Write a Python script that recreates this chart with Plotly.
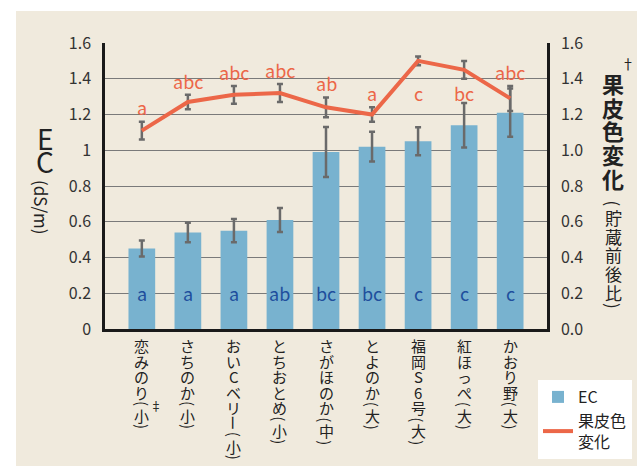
import plotly.graph_objects as go

# ---------------- data ----------------
categories = ["恋みのり(小)", "さちのか(小)", "おいCベリー(小)", "とちおとめ(小)",
              "さがほのか(中)", "とよのか(大)", "福岡S6号(大)", "紅ほっぺ(大)", "かおり野(大)"]
ec = [0.45, 0.54, 0.55, 0.61, 0.99, 1.02, 1.05, 1.14, 1.21]
ec_err = [0.045, 0.055, 0.065, 0.067, 0.14, 0.083, 0.078, 0.125, 0.135]
cc = [1.11, 1.27, 1.31, 1.32, 1.24, 1.20, 1.50, 1.45, 1.29]
cc_err = [0.05, 0.04, 0.05, 0.05, 0.055, 0.04, 0.025, 0.05, 0.07]
ec_letters = ["a", "a", "a", "ab", "bc", "bc", "c", "c", "c"]
cc_letters = ["a", "abc", "abc", "abc", "ab", "a", "c", "bc", "abc"]
y_ticks = [0, 0.2, 0.4, 0.6, 0.8, 1.0, 1.2, 1.4, 1.6]
y_ticktext_left = ["0", "0.2", "0.4", "0.6", "0.8", "1", "1.2", "1.4", "1.6"]
y_ticktext_right = ["0.0", "0.2", "0.4", "0.6", "0.8", "1.0", "1.2", "1.4", "1.6"]

# ---------------- layout constants ----------------
FW, FH = 637, 466
L, R, T, B = 105, 547, 43, 329
W, H = R - L, B - T
FONT = "Noto Sans CJK JP"
BEIGE = "#f0eadd"
BAR = "#78b2cf"
LINE = "#ec6748"
ERR = "#6a6a6a"
BLUE_TXT = "#1f4f9d"
TXT = "#222222"


def px_x(px):
    return (px - L) / W


def px_y(py):
    return (B - py) / H


def label(x, y, text, size, xref="paper", yref="paper", angle=0, color=TXT, **kw):
    d = dict(x=x, y=y, xref=xref, yref=yref, text=text, showarrow=False,
             textangle=angle, xanchor="center", yanchor="middle",
             font=dict(family=FONT, size=size, color=color))
    d.update(kw)
    return d


x_idx = list(range(len(categories)))

fig = go.Figure()
fig.add_trace(go.Bar(
    x=x_idx, y=ec, name="EC", marker=dict(color=BAR, line=dict(width=0)),
    width=0.58,
    error_y=dict(type="data", array=ec_err, color=ERR, thickness=2.5, width=3),
))
fig.add_trace(go.Scatter(
    x=x_idx, y=cc, name="果皮色<br>変化", mode="lines", yaxis="y2",
    line=dict(color=LINE, width=4),
    error_y=dict(type="data", array=cc_err, color=ERR, thickness=2.5, width=3),
))

ann = []
# letters inside bars
for i, t in enumerate(ec_letters):
    ann.append(label(i, 0.2, t, 18, xref="x", yref="y", color=BLUE_TXT))
# letters near line
for i, t in enumerate(cc_letters):
    yy = cc[i] + cc_err[i] + 0.08
    if yy > 1.55:
        yy = 1.32
    ann.append(label(i, yy, t, 18, xref="x", yref="y2", color=LINE))

# vertical category labels (one glyph per annotation)
ROT = {"(": 90, ")": 90, "ー": 90}
for i, lab in enumerate(categories):
    cur = 338
    for ch in lab:
        adv = 7.5 if ch in "()" else 15.5
        ann.append(label(i, px_y(cur + adv / 2), ch, 15, xref="x",
                         angle=ROT.get(ch, 0)))
        cur += adv
    if i == 0:
        ann.append(label(i, px_y(405), "‡", 12, xref="x", xshift=14))

# left axis title: EC stacked + (dS/m) rotated
for ch, cy in zip("EC", [138, 161]):
    ann.append(label(px_x(45), px_y(cy), ch, 28))
ann.append(label(px_x(42), px_y(207), "(dS/m)", 17, angle=90))

# right axis title
for k, ch in enumerate("果皮色変化"):
    ann.append(label(px_x(613), px_y(83 + 23.7 * k), "<b>" + ch + "</b>", 22))
cur = 199
for ch in "(貯蔵前後比)":
    adv = 9 if ch in "()" else 18.7
    ann.append(label(px_x(613), px_y(cur + adv / 2), ch, 17, angle=ROT.get(ch, 0)))
    cur += adv
ann.append(label(px_x(628), px_y(63), "†", 14))

shapes = [
    dict(type="rect", xref="paper", yref="paper", x0=px_x(0), x1=px_x(FW),
         y0=px_y(11), y1=px_y(0), fillcolor="white", line=dict(width=0), layer="below"),
    dict(type="rect", xref="paper", yref="paper", x0=px_x(0), x1=px_x(16),
         y0=px_y(FH), y1=px_y(0), fillcolor="white", line=dict(width=0), layer="below"),
]

fig.update_layout(
    width=FW, height=FH,
    margin=dict(l=L, r=FW - R, t=T, b=FH - B, pad=0, autoexpand=False),
    paper_bgcolor=BEIGE, plot_bgcolor=BEIGE,
    font=dict(family=FONT, size=16, color="#333"),
    showlegend=True,
    legend=dict(x=px_x(632), xanchor="right", y=px_y(380), yanchor="top",
                bgcolor="white", font=dict(family=FONT, size=16, color=TXT),
                itemwidth=30, tracegroupgap=2),
    xaxis=dict(range=[-0.8, len(categories) - 0.2], showticklabels=False,
               showgrid=False, zeroline=False, showline=True,
               linecolor="#1a1a1a", linewidth=2.5, ticks=""),
    yaxis=dict(range=[0, 1.6], tickvals=y_ticks, ticktext=y_ticktext_left,
               showgrid=True, gridcolor="#7a7a7a", gridwidth=1, zeroline=False,
               showline=True, linecolor="#1a1a1a", linewidth=2.5, ticks="",
               ticklabelstandoff=8, tickfont=dict(family=FONT, size=16, color="#333")),
    yaxis2=dict(range=[0, 1.6], tickvals=y_ticks, ticktext=y_ticktext_right,
                overlaying="y", side="right", showgrid=False, zeroline=False,
                showline=True, linecolor="#1a1a1a", linewidth=2.5, ticks="",
                ticklabelstandoff=8, tickfont=dict(family=FONT, size=16, color="#333")),
    annotations=ann, shapes=shapes,
)

fig.write_html("out.html",
               config={"displayModeBar": False},
               post_script="document.body.style.margin='0';"
                           "document.body.style.overflow='hidden';")
